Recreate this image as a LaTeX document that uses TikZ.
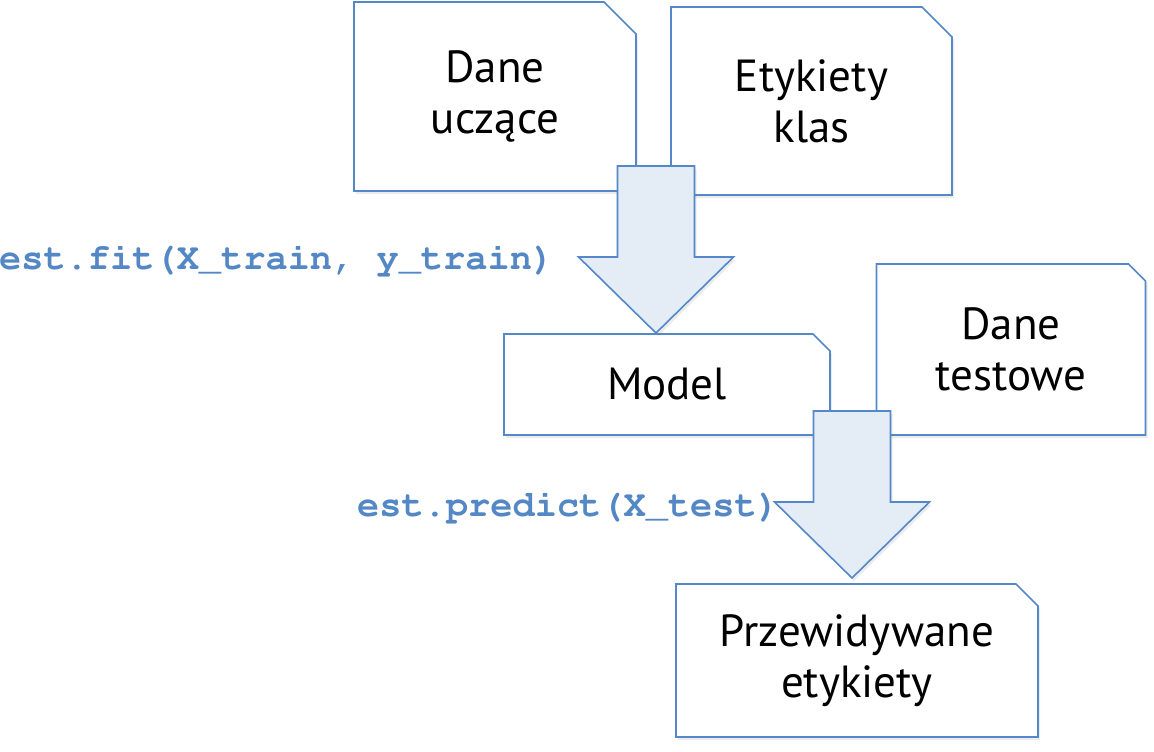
\documentclass[tikz,border=0pt]{standalone}
\usepackage[T1,TU]{fontenc}
\usepackage{fontspec}
\setmainfont{PT Sans}
\usepackage{tikz}
\usetikzlibrary{shapes.misc}
\usetikzlibrary{shadows}

\definecolor{boxblue}{RGB}{84,136,200}
\definecolor{arrowfill}{RGB}{228,236,246}
\definecolor{codeblue}{RGB}{84,136,197}

\newcommand{\codefont}{\fontencoding{T1}\fontfamily{pcr}\fontseries{b}\selectfont}

\tikzset{
  databox/.style={draw=boxblue, line width=1.6pt, fill=white,
    chamfered rectangle, chamfered rectangle corners=north east,
    chamfered rectangle xsep=#1, chamfered rectangle ysep=#1,
    align=center, font=\fontsize{45}{51}\selectfont,
    drop shadow={opacity=0.15, shadow xshift=2pt, shadow yshift=-3pt}},
  codetext/.style={text=codeblue, font=\codefont\fontsize{37}{40}\selectfont,
    inner sep=0pt, anchor=base west},
  bigarrow/.style={draw=boxblue, line width=1.6pt, fill=arrowfill,
    drop shadow={opacity=0.15, shadow xshift=2pt, shadow yshift=-3pt}},
  pics/downarrow/.style={code={
    \filldraw[bigarrow] (-38.5,-167) -- (38.5,-167) -- (38.5,-76) -- (77.5,-76)
      -- (0,0) -- (-77.5,-76) -- (-38.5,-76) -- cycle;
  }}
}

\begin{document}
\begin{tikzpicture}[x=1pt, y=-1pt]

\useasboundingbox (0,0) rectangle (1154,752);

% boxes
\node[databox=16pt, minimum width=282pt, minimum height=189pt] (train) at (495,96.5) {Dane\\uczące};
\node[databox=15pt, minimum width=281pt, minimum height=188pt] (labels) at (811.5,101) {Etykiety\\klas};
\node[databox=8.5pt, minimum width=326pt, minimum height=101pt] (model) at (667,384.5) {Model};
\node[databox=8.5pt, minimum width=269pt, minimum height=171pt] (test) at (1011,349.5) {Dane\\testowe};
\node[databox=11pt, minimum width=362pt, minimum height=153pt] (pred) at (857,660.5) {Przewidywane\\etykiety};

% arrows
\coordinate (fittip) at (656,333);
\coordinate (predicttip) at (852,578);
\pic at (fittip) {downarrow};
\pic at (predicttip) {downarrow};

% code
\node[codetext] (fit) at (-1,269) {est.fit(X\_train, y\_train)};
\node[codetext] (predict) at (357,516) {est.predict(X\_test)};

\end{tikzpicture}
\end{document}
